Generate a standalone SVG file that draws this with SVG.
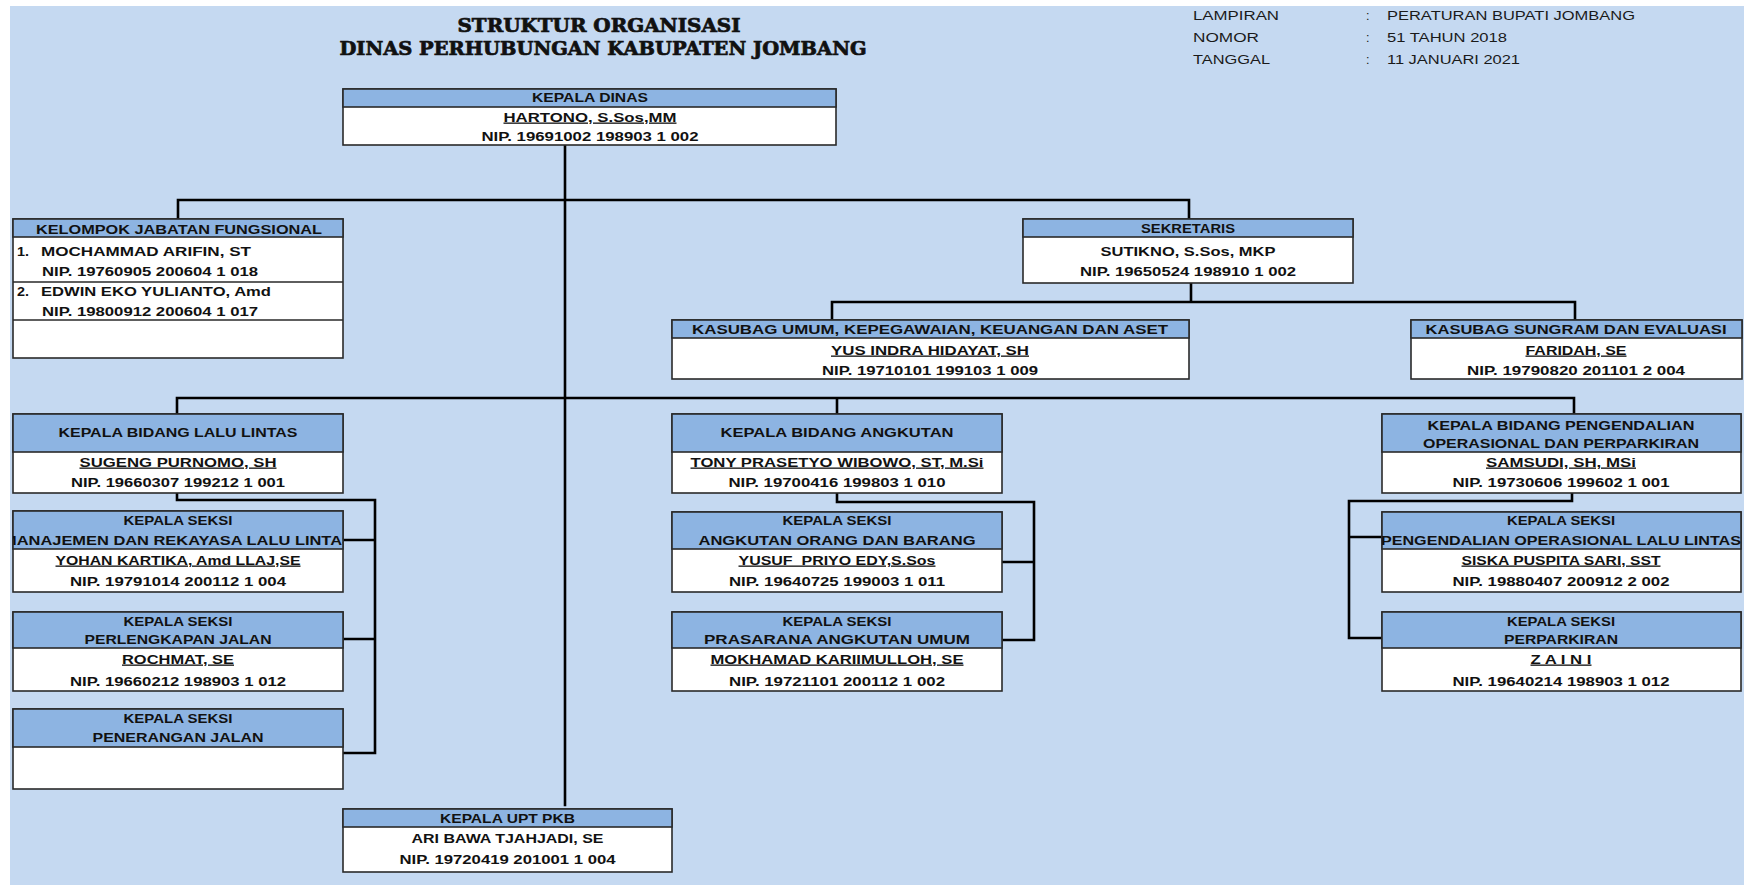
<svg xmlns="http://www.w3.org/2000/svg" width="1744" height="885" viewBox="0 0 1744 885">
<style>
.bg{fill:#C5D9F1}
.bx{fill:#FFFFFF;stroke:#2a2a2a;stroke-width:1.6}
.hd{fill:#8DB4E2;stroke:#2a2a2a;stroke-width:1.6}
.ln{stroke:#2a2a2a;stroke-width:1.6;fill:none}
.cn{stroke:#000;stroke-width:2.6;fill:none;stroke-linecap:square}
.t{font-family:"Liberation Sans",Arial,sans-serif;font-size:13px;font-weight:bold;fill:#111;text-anchor:middle}
.l{text-anchor:start}
.u{text-decoration:underline}
.pre{white-space:pre}
.ttl{font-family:"DejaVu Serif","Liberation Serif",serif;font-size:18px;font-weight:900;fill:#111;stroke:#111;stroke-width:0.7;text-anchor:middle}
.hr{font-family:"Liberation Sans",Arial,sans-serif;font-size:12.5px;fill:#1a1a1a}
</style>
<defs>
<clipPath id="clipMan"><rect x="13" y="511" width="330" height="38"/></clipPath>
<clipPath id="clipPol"><rect x="1382" y="512" width="359" height="37"/></clipPath>
</defs>
<rect class="bg" x="10" y="6" width="1734" height="879"/>

<g id="title">
<text class="ttl" x="599" y="32" textLength="283" lengthAdjust="spacingAndGlyphs">STRUKTUR ORGANISASI</text>
<text class="ttl" x="603" y="55" textLength="527" lengthAdjust="spacingAndGlyphs">DINAS PERHUBUNGAN KABUPATEN JOMBANG</text>
</g>

<g id="lampiran">
<text class="hr" x="1193" y="20" textLength="86" lengthAdjust="spacingAndGlyphs">LAMPIRAN</text>
<text class="hr" x="1193" y="42" textLength="66" lengthAdjust="spacingAndGlyphs">NOMOR</text>
<text class="hr" x="1193" y="64" textLength="77" lengthAdjust="spacingAndGlyphs">TANGGAL</text>
<text class="hr" x="1366" y="20">:</text>
<text class="hr" x="1366" y="42">:</text>
<text class="hr" x="1366" y="64">:</text>
<text class="hr" x="1387" y="20" textLength="248" lengthAdjust="spacingAndGlyphs">PERATURAN BUPATI JOMBANG</text>
<text class="hr" x="1387" y="42" textLength="120" lengthAdjust="spacingAndGlyphs">51 TAHUN 2018</text>
<text class="hr" x="1387" y="64" textLength="133" lengthAdjust="spacingAndGlyphs">11 JANUARI 2021</text>
</g>

<g id="connectors">
<path class="cn" d="M565 145 V805"/>
<path class="cn" d="M178 219 V200 H1189 V219"/>
<path class="cn" d="M1191 284 V302 M832 320 V302 H1575 V320"/>
<path class="cn" d="M177 414 V398 H1574 V414 M837 398 V414"/>
<path class="cn" d="M177 493 V500 H375 V753 M343 540 H375 M343 639 H375 M343 753 H375"/>
<path class="cn" d="M837 493 V502 H1034 V640 M1000 562 H1034 M1002 640 H1034"/>
<path class="cn" d="M1572 493 V501 H1349 V638 M1349 537 H1382 M1349 638 H1382"/>
</g>

<g id="kepala-dinas">
<rect class="bx" x="343" y="89" width="493" height="56"/>
<rect class="hd" x="343" y="89" width="493" height="18"/>
<text class="t" x="590" y="102" textLength="116" lengthAdjust="spacingAndGlyphs">KEPALA DINAS</text>
<text class="t u" x="590" y="121.5" textLength="173" lengthAdjust="spacingAndGlyphs">HARTONO, S.Sos,MM</text>
<text class="t" x="590" y="140.5" textLength="217" lengthAdjust="spacingAndGlyphs">NIP. 19691002 198903 1 002</text>
</g>

<g id="kelompok-jabatan-fungsional">
<rect class="bx" x="13" y="219" width="330" height="139"/>
<rect class="hd" x="13" y="219" width="330" height="18"/>
<path class="ln" d="M13 282 H343 M13 320 H343"/>
<text class="t" x="179" y="233.5" textLength="286" lengthAdjust="spacingAndGlyphs">KELOMPOK JABATAN FUNGSIONAL</text>
<text class="t l" x="17" y="255.5" textLength="12" lengthAdjust="spacingAndGlyphs">1.</text>
<text class="t l" x="41" y="255.5" textLength="210" lengthAdjust="spacingAndGlyphs">MOCHAMMAD ARIFIN, ST</text>
<text class="t l" x="42" y="276" textLength="216" lengthAdjust="spacingAndGlyphs">NIP. 19760905 200604 1 018</text>
<text class="t l" x="17" y="296" textLength="12" lengthAdjust="spacingAndGlyphs">2.</text>
<text class="t l" x="41" y="296" textLength="230" lengthAdjust="spacingAndGlyphs">EDWIN EKO YULIANTO, Amd</text>
<text class="t l" x="42" y="315.5" textLength="216" lengthAdjust="spacingAndGlyphs">NIP. 19800912 200604 1 017</text>
</g>

<g id="sekretaris">
<rect class="bx" x="1023" y="219" width="330" height="64"/>
<rect class="hd" x="1023" y="219" width="330" height="18"/>
<text class="t" x="1188" y="232.5" textLength="94" lengthAdjust="spacingAndGlyphs">SEKRETARIS</text>
<text class="t" x="1188" y="255.5" textLength="175" lengthAdjust="spacingAndGlyphs">SUTIKNO, S.Sos, MKP</text>
<text class="t" x="1188" y="275.5" textLength="216" lengthAdjust="spacingAndGlyphs">NIP. 19650524 198910 1 002</text>
</g>

<g id="kasubag-umum">
<rect class="bx" x="672" y="320" width="517" height="59"/>
<rect class="hd" x="672" y="320" width="517" height="18"/>
<text class="t" x="930" y="333.5" textLength="476" lengthAdjust="spacingAndGlyphs">KASUBAG UMUM, KEPEGAWAIAN, KEUANGAN DAN ASET</text>
<text class="t u" x="930" y="354.5" textLength="198" lengthAdjust="spacingAndGlyphs">YUS INDRA HIDAYAT, SH</text>
<text class="t" x="930" y="374.5" textLength="216" lengthAdjust="spacingAndGlyphs">NIP. 19710101 199103 1 009</text>
</g>

<g id="kasubag-sungram">
<rect class="bx" x="1411" y="320" width="331" height="59"/>
<rect class="hd" x="1411" y="320" width="331" height="18"/>
<text class="t" x="1576" y="333.5" textLength="301" lengthAdjust="spacingAndGlyphs">KASUBAG SUNGRAM DAN EVALUASI</text>
<text class="t u" x="1576" y="354.5" textLength="101" lengthAdjust="spacingAndGlyphs">FARIDAH, SE</text>
<text class="t" x="1576" y="374.5" textLength="218" lengthAdjust="spacingAndGlyphs">NIP. 19790820 201101 2 004</text>
</g>

<g id="kabid-lalu-lintas">
<rect class="bx" x="13" y="414" width="330" height="79"/>
<rect class="hd" x="13" y="414" width="330" height="38"/>
<text class="t" x="178" y="437" textLength="239" lengthAdjust="spacingAndGlyphs">KEPALA BIDANG LALU LINTAS</text>
<text class="t u" x="178" y="466.5" textLength="197" lengthAdjust="spacingAndGlyphs">SUGENG PURNOMO, SH</text>
<text class="t" x="178" y="486.5" textLength="214" lengthAdjust="spacingAndGlyphs">NIP. 19660307 199212 1 001</text>
</g>

<g id="kasi-manajemen-rekayasa">
<rect class="bx" x="13" y="511" width="330" height="81"/>
<rect class="hd" x="13" y="511" width="330" height="38"/>
<text class="t" x="178" y="524.5" textLength="109" lengthAdjust="spacingAndGlyphs">KEPALA SEKSI</text>
<text class="t" x="178" y="544.5" textLength="350" lengthAdjust="spacingAndGlyphs" clip-path="url(#clipMan)">MANAJEMEN DAN REKAYASA LALU LINTAS</text>
<text class="t u" x="178" y="564.5" textLength="245" lengthAdjust="spacingAndGlyphs">YOHAN KARTIKA, Amd LLAJ,SE</text>
<text class="t" x="178" y="585.5" textLength="216" lengthAdjust="spacingAndGlyphs">NIP. 19791014 200112 1 004</text>
</g>

<g id="kasi-perlengkapan-jalan">
<rect class="bx" x="13" y="612" width="330" height="79"/>
<rect class="hd" x="13" y="612" width="330" height="36"/>
<text class="t" x="178" y="625.5" textLength="109" lengthAdjust="spacingAndGlyphs">KEPALA SEKSI</text>
<text class="t" x="178" y="643.5" textLength="187" lengthAdjust="spacingAndGlyphs">PERLENGKAPAN JALAN</text>
<text class="t u" x="178" y="663.5" textLength="112" lengthAdjust="spacingAndGlyphs">ROCHMAT, SE</text>
<text class="t" x="178" y="685.5" textLength="216" lengthAdjust="spacingAndGlyphs">NIP. 19660212 198903 1 012</text>
</g>

<g id="kasi-penerangan-jalan">
<rect class="bx" x="13" y="709" width="330" height="80"/>
<rect class="hd" x="13" y="709" width="330" height="38"/>
<text class="t" x="178" y="722.5" textLength="109" lengthAdjust="spacingAndGlyphs">KEPALA SEKSI</text>
<text class="t" x="178" y="741.5" textLength="171" lengthAdjust="spacingAndGlyphs">PENERANGAN JALAN</text>
</g>

<g id="kabid-angkutan">
<rect class="bx" x="672" y="414" width="330" height="79"/>
<rect class="hd" x="672" y="414" width="330" height="38"/>
<text class="t" x="837" y="437" textLength="233" lengthAdjust="spacingAndGlyphs">KEPALA BIDANG ANGKUTAN</text>
<text class="t u" x="837" y="466.5" textLength="293" lengthAdjust="spacingAndGlyphs">TONY PRASETYO WIBOWO, ST, M.Si</text>
<text class="t" x="837" y="486.5" textLength="217" lengthAdjust="spacingAndGlyphs">NIP. 19700416 199803 1 010</text>
</g>

<g id="kasi-angkutan-orang-barang">
<rect class="bx" x="672" y="512" width="330" height="80"/>
<rect class="hd" x="672" y="512" width="330" height="37"/>
<text class="t" x="837" y="524.5" textLength="109" lengthAdjust="spacingAndGlyphs">KEPALA SEKSI</text>
<text class="t" x="837" y="544.5" textLength="277" lengthAdjust="spacingAndGlyphs">ANGKUTAN ORANG DAN BARANG</text>
<text class="t u pre" x="837" y="564.5" textLength="197" lengthAdjust="spacingAndGlyphs">YUSUF  PRIYO EDY,S.Sos</text>
<text class="t" x="837" y="585.5" textLength="216" lengthAdjust="spacingAndGlyphs">NIP. 19640725 199003 1 011</text>
</g>

<g id="kasi-prasarana-angkutan-umum">
<rect class="bx" x="672" y="612" width="330" height="79"/>
<rect class="hd" x="672" y="612" width="330" height="36"/>
<text class="t" x="837" y="625.5" textLength="109" lengthAdjust="spacingAndGlyphs">KEPALA SEKSI</text>
<text class="t" x="837" y="643.5" textLength="266" lengthAdjust="spacingAndGlyphs">PRASARANA ANGKUTAN UMUM</text>
<text class="t u" x="837" y="663.5" textLength="253" lengthAdjust="spacingAndGlyphs">MOKHAMAD KARIIMULLOH, SE</text>
<text class="t" x="837" y="685.5" textLength="216" lengthAdjust="spacingAndGlyphs">NIP. 19721101 200112 1 002</text>
</g>

<g id="kabid-pengendalian">
<rect class="bx" x="1382" y="414" width="359" height="79"/>
<rect class="hd" x="1382" y="414" width="359" height="38"/>
<text class="t" x="1561" y="429.5" textLength="267" lengthAdjust="spacingAndGlyphs">KEPALA BIDANG PENGENDALIAN</text>
<text class="t" x="1561" y="447.5" textLength="276" lengthAdjust="spacingAndGlyphs">OPERASIONAL DAN PERPARKIRAN</text>
<text class="t u" x="1561" y="466.5" textLength="150" lengthAdjust="spacingAndGlyphs">SAMSUDI, SH, MSi</text>
<text class="t" x="1561" y="486.5" textLength="217" lengthAdjust="spacingAndGlyphs">NIP. 19730606 199602 1 001</text>
</g>

<g id="kasi-pengendalian-operasional">
<rect class="bx" x="1382" y="512" width="359" height="80"/>
<rect class="hd" x="1382" y="512" width="359" height="37"/>
<text class="t" x="1561" y="524.5" textLength="108" lengthAdjust="spacingAndGlyphs">KEPALA SEKSI</text>
<text class="t" x="1561" y="544.5" textLength="360" lengthAdjust="spacingAndGlyphs" clip-path="url(#clipPol)">PENGENDALIAN OPERASIONAL LALU LINTAS</text>
<text class="t u" x="1561" y="564.5" textLength="199" lengthAdjust="spacingAndGlyphs">SISKA PUSPITA SARI, SST</text>
<text class="t" x="1561" y="585.5" textLength="217" lengthAdjust="spacingAndGlyphs">NIP. 19880407 200912 2 002</text>
</g>

<g id="kasi-perparkiran">
<rect class="bx" x="1382" y="612" width="359" height="79"/>
<rect class="hd" x="1382" y="612" width="359" height="36"/>
<text class="t" x="1561" y="625.5" textLength="108" lengthAdjust="spacingAndGlyphs">KEPALA SEKSI</text>
<text class="t" x="1561" y="643.5" textLength="114" lengthAdjust="spacingAndGlyphs">PERPARKIRAN</text>
<text class="t u" x="1561" y="663.5" textLength="61" lengthAdjust="spacingAndGlyphs">Z A I N I</text>
<text class="t" x="1561" y="685.5" textLength="217" lengthAdjust="spacingAndGlyphs">NIP. 19640214 198903 1 012</text>
</g>

<g id="kepala-upt-pkb">
<rect class="bx" x="343" y="809" width="329" height="63"/>
<rect class="hd" x="343" y="809" width="329" height="18"/>
<text class="t" x="507.5" y="822.5" textLength="135" lengthAdjust="spacingAndGlyphs">KEPALA UPT PKB</text>
<text class="t" x="507.5" y="842.5" textLength="192" lengthAdjust="spacingAndGlyphs">ARI BAWA TJAHJADI, SE</text>
<text class="t" x="507.5" y="863.5" textLength="216" lengthAdjust="spacingAndGlyphs">NIP. 19720419 201001 1 004</text>
</g>
</svg>
